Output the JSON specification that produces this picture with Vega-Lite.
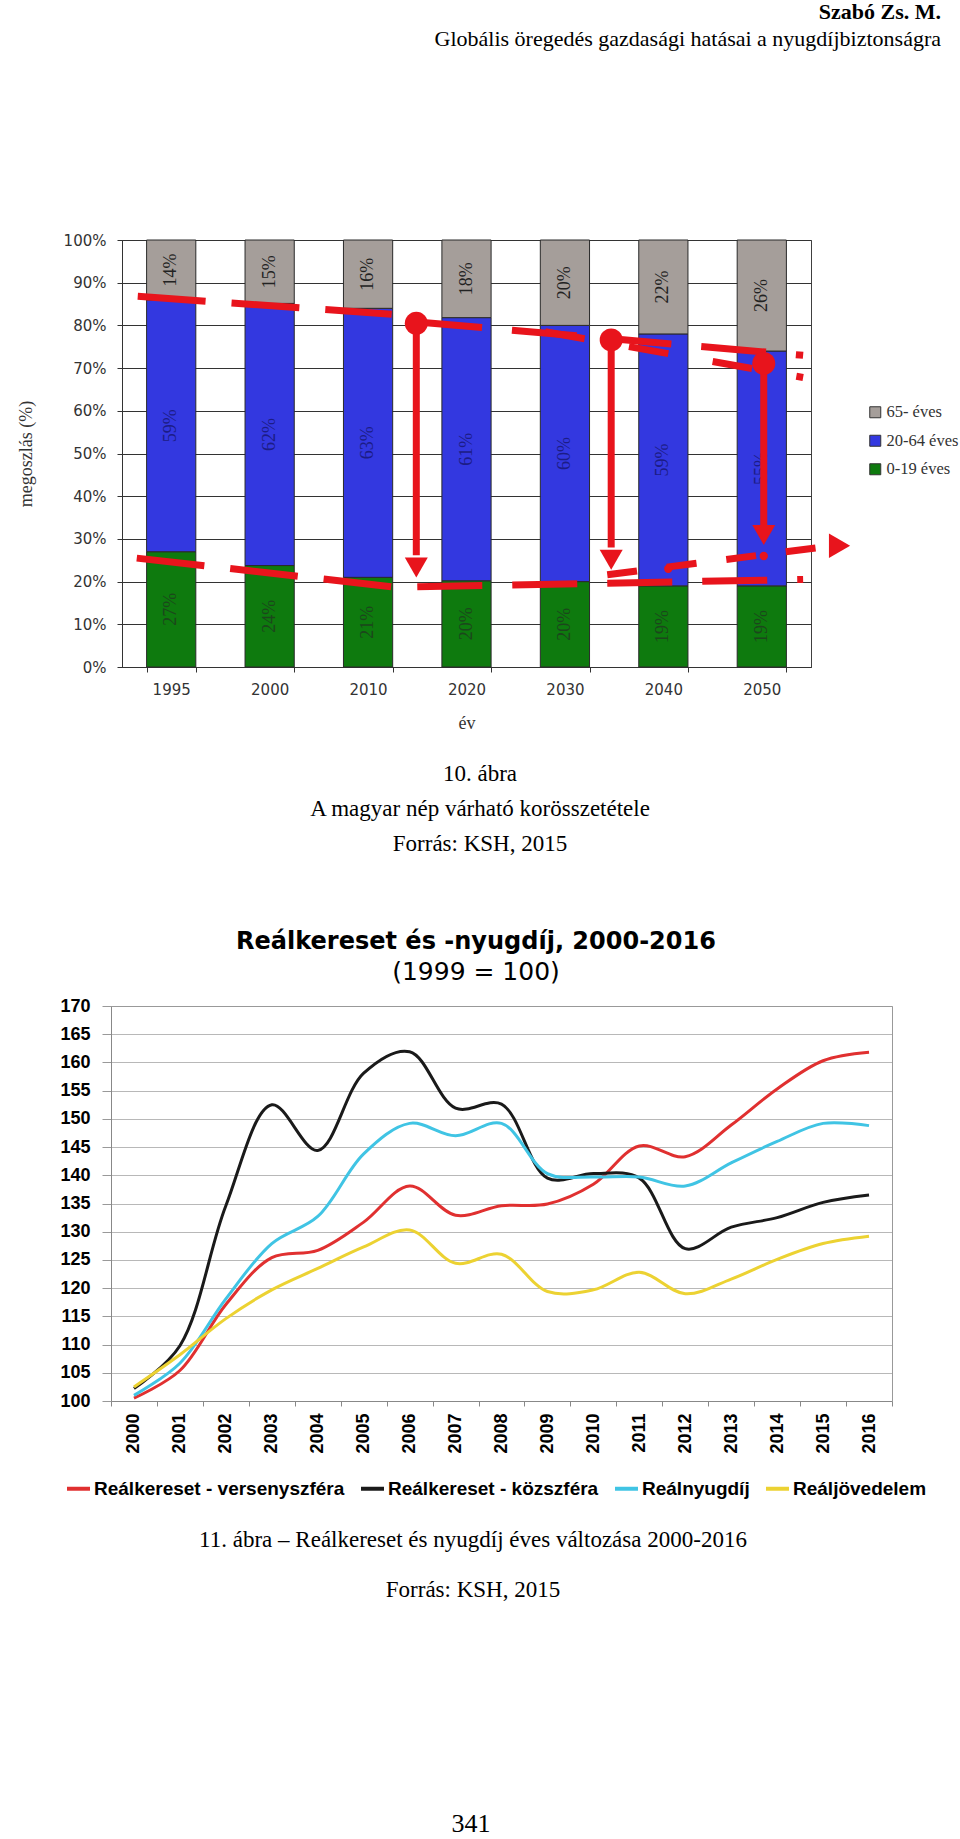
{
  "$schema": "https://vega.github.io/schema/vega-lite/v6.json",
  "background": "white",
  "padding": 0,
  "spacing": 0,
  "bounds": "flush",
  "resolve": {"scale": {"color": "independent"}, "legend": {"color": "independent"}},
  "datasets": {
    "pop": [
      {"year": "1995", "group": "0-19 éves", "value": 0.27},
      {"year": "1995", "group": "20-64 éves", "value": 0.59},
      {"year": "1995", "group": "65- éves", "value": 0.14},
      {"year": "2000", "group": "0-19 éves", "value": 0.24},
      {"year": "2000", "group": "20-64 éves", "value": 0.62},
      {"year": "2000", "group": "65- éves", "value": 0.15},
      {"year": "2010", "group": "0-19 éves", "value": 0.21},
      {"year": "2010", "group": "20-64 éves", "value": 0.63},
      {"year": "2010", "group": "65- éves", "value": 0.16},
      {"year": "2020", "group": "0-19 éves", "value": 0.20},
      {"year": "2020", "group": "20-64 éves", "value": 0.61},
      {"year": "2020", "group": "65- éves", "value": 0.18},
      {"year": "2030", "group": "0-19 éves", "value": 0.20},
      {"year": "2030", "group": "20-64 éves", "value": 0.60},
      {"year": "2030", "group": "65- éves", "value": 0.20},
      {"year": "2040", "group": "0-19 éves", "value": 0.19},
      {"year": "2040", "group": "20-64 éves", "value": 0.59},
      {"year": "2040", "group": "65- éves", "value": 0.22},
      {"year": "2050", "group": "0-19 éves", "value": 0.19},
      {"year": "2050", "group": "20-64 éves", "value": 0.55},
      {"year": "2050", "group": "65- éves", "value": 0.26}
    ],
    "wages": [
      {"year": "2000", "series": "Reálkereset - versenyszféra", "value": 100.5},
      {"year": "2001", "series": "Reálkereset - versenyszféra", "value": 105.4},
      {"year": "2002", "series": "Reálkereset - versenyszféra", "value": 117.1},
      {"year": "2003", "series": "Reálkereset - versenyszféra", "value": 125.4},
      {"year": "2004", "series": "Reálkereset - versenyszféra", "value": 126.7},
      {"year": "2005", "series": "Reálkereset - versenyszféra", "value": 131.7},
      {"year": "2006", "series": "Reálkereset - versenyszféra", "value": 138.1},
      {"year": "2007", "series": "Reálkereset - versenyszféra", "value": 132.9},
      {"year": "2008", "series": "Reálkereset - versenyszféra", "value": 134.6},
      {"year": "2009", "series": "Reálkereset - versenyszféra", "value": 134.9},
      {"year": "2010", "series": "Reálkereset - versenyszféra", "value": 138.4},
      {"year": "2011", "series": "Reálkereset - versenyszféra", "value": 145.2},
      {"year": "2012", "series": "Reálkereset - versenyszféra", "value": 143.3},
      {"year": "2013", "series": "Reálkereset - versenyszféra", "value": 148.9},
      {"year": "2014", "series": "Reálkereset - versenyszféra", "value": 155.3},
      {"year": "2015", "series": "Reálkereset - versenyszféra", "value": 160.3},
      {"year": "2016", "series": "Reálkereset - versenyszféra", "value": 161.8},
      {"year": "2000", "series": "Reálkereset - közszféra", "value": 102.2},
      {"year": "2001", "series": "Reálkereset - közszféra", "value": 109.8},
      {"year": "2002", "series": "Reálkereset - közszféra", "value": 134.6},
      {"year": "2003", "series": "Reálkereset - közszféra", "value": 152.5},
      {"year": "2004", "series": "Reálkereset - közszféra", "value": 144.4},
      {"year": "2005", "series": "Reálkereset - közszféra", "value": 158.1},
      {"year": "2006", "series": "Reálkereset - közszféra", "value": 161.9},
      {"year": "2007", "series": "Reálkereset - közszféra", "value": 151.9},
      {"year": "2008", "series": "Reálkereset - közszféra", "value": 152.6},
      {"year": "2009", "series": "Reálkereset - közszféra", "value": 139.5},
      {"year": "2010", "series": "Reálkereset - közszféra", "value": 140.3},
      {"year": "2011", "series": "Reálkereset - közszféra", "value": 139.5},
      {"year": "2012", "series": "Reálkereset - közszféra", "value": 127.0},
      {"year": "2013", "series": "Reálkereset - közszféra", "value": 130.8},
      {"year": "2014", "series": "Reálkereset - közszféra", "value": 132.5},
      {"year": "2015", "series": "Reálkereset - közszféra", "value": 135.2},
      {"year": "2016", "series": "Reálkereset - közszféra", "value": 136.5},
      {"year": "2000", "series": "Reálnyugdíj", "value": 101.0},
      {"year": "2001", "series": "Reálnyugdíj", "value": 106.7},
      {"year": "2002", "series": "Reálnyugdíj", "value": 118.1},
      {"year": "2003", "series": "Reálnyugdíj", "value": 127.9},
      {"year": "2004", "series": "Reálnyugdíj", "value": 132.7},
      {"year": "2005", "series": "Reálnyugdíj", "value": 143.8},
      {"year": "2006", "series": "Reálnyugdíj", "value": 149.2},
      {"year": "2007", "series": "Reálnyugdíj", "value": 147.0},
      {"year": "2008", "series": "Reálnyugdíj", "value": 149.2},
      {"year": "2009", "series": "Reálnyugdíj", "value": 140.3},
      {"year": "2010", "series": "Reálnyugdíj", "value": 139.7},
      {"year": "2011", "series": "Reálnyugdíj", "value": 139.7},
      {"year": "2012", "series": "Reálnyugdíj", "value": 138.1},
      {"year": "2013", "series": "Reálnyugdíj", "value": 142.2},
      {"year": "2014", "series": "Reálnyugdíj", "value": 146.0},
      {"year": "2015", "series": "Reálnyugdíj", "value": 149.2},
      {"year": "2016", "series": "Reálnyugdíj", "value": 148.8},
      {"year": "2000", "series": "Reáljövedelem", "value": 102.5},
      {"year": "2001", "series": "Reáljövedelem", "value": 108.2},
      {"year": "2002", "series": "Reáljövedelem", "value": 114.6},
      {"year": "2003", "series": "Reáljövedelem", "value": 119.7},
      {"year": "2004", "series": "Reáljövedelem", "value": 123.5},
      {"year": "2005", "series": "Reáljövedelem", "value": 127.3},
      {"year": "2006", "series": "Reáljövedelem", "value": 130.3},
      {"year": "2007", "series": "Reáljövedelem", "value": 124.4},
      {"year": "2008", "series": "Reáljövedelem", "value": 126.0},
      {"year": "2009", "series": "Reáljövedelem", "value": 119.4},
      {"year": "2010", "series": "Reáljövedelem", "value": 119.7},
      {"year": "2011", "series": "Reáljövedelem", "value": 122.8},
      {"year": "2012", "series": "Reáljövedelem", "value": 119.0},
      {"year": "2013", "series": "Reáljövedelem", "value": 121.6},
      {"year": "2014", "series": "Reáljövedelem", "value": 125.1},
      {"year": "2015", "series": "Reáljövedelem", "value": 127.9},
      {"year": "2016", "series": "Reáljövedelem", "value": 129.2}
    ]
  },
  "vconcat": [
    {
      "width": 819,
      "height": 51,
      "view": {"stroke": null},
      "encoding": {
        "x": {"datum": 1, "type": "quantitative", "scale": {"domain": [0, 1]}, "axis": null},
        "y": {"field": "t", "type": "ordinal", "axis": null, "scale": {"type": "point", "domain": ["Szabó Zs. M.", "Globális öregedés gazdasági hatásai a nyugdíjbiztonságra"], "padding": 0.455, "align": 0.5}},
        "text": {"field": "t"}
      },
      "layer": [
        {"data": {"values": [{"t": "Szabó Zs. M."}]}, "mark": {"type": "text", "align": "right", "baseline": "middle", "font": "Liberation Serif", "fontSize": 22, "fontWeight": "bold", "color": "black"}},
        {"data": {"values": [{"t": "Globális öregedés gazdasági hatásai a nyugdíjbiztonságra"}]}, "mark": {"type": "text", "align": "right", "baseline": "middle", "font": "Liberation Serif", "fontSize": 22, "fontWeight": "normal", "color": "black"}}
      ]
    },
    {"width": 1, "height": 189, "view": {"stroke": null}, "data": {"values": [{}]}, "mark": {"type": "text", "text": ""}},
    {
      "width": 689,
      "height": 427,
      "view": {"stroke": "#404040", "strokeWidth": 1},
      "resolve": {"scale": {"x": "independent", "color": "independent"}, "axis": {"x": "independent", "y": "independent"}},
      "layer": [
        {
          "data": {"name": "pop"},
          "mark": {"type": "bar", "stroke": "#2a2a2a", "strokeWidth": 1},
          "encoding": {
            "x": {"field": "year", "type": "ordinal",
              "scale": {"paddingInner": 0.5, "paddingOuter": 0.25},
              "axis": {"title": "év", "labelAngle": 0, "labelFont": "DejaVu Sans", "labelFontSize": 15, "labelColor": "#333333", "labelPadding": 10, "tickSize": 5, "tickBand": "extent", "tickColor": "#333333", "domainColor": "#333333", "titleFont": "Liberation Serif", "titleFontSize": 18, "titleFontWeight": "normal", "titleColor": "#333333", "titlePadding": 17}},
            "y": {"field": "value", "type": "quantitative", "stack": "normalize",
              "scale": {"domain": [0, 1]},
              "axis": {"title": "megoszlás (%)", "values": [0, 0.1, 0.2, 0.3, 0.4, 0.5, 0.6, 0.7, 0.8, 0.9, 1], "format": ".0%", "labelFont": "DejaVu Sans", "labelFontSize": 15, "labelColor": "#333333", "labelPadding": 11, "tickSize": 5, "tickColor": "#333333", "domainColor": "#333333", "grid": true, "gridColor": "#333333", "gridOpacity": 1, "titleFont": "Liberation Serif", "titleFontSize": 18, "titleFontWeight": "normal", "titleColor": "#333333", "titlePadding": 28}},
            "color": {"field": "group", "type": "nominal",
              "scale": {"domain": ["65- éves", "20-64 éves", "0-19 éves"], "range": ["#a59e9a", "#3338e0", "#0e7a0e"]},
              "legend": {"orient": "none", "legendX": 745, "legendY": 164, "title": null, "labelFont": "Liberation Serif", "labelFontSize": 16.5, "labelColor": "#333333", "symbolType": "square", "symbolSize": 121, "symbolStrokeColor": "#333333", "symbolStrokeWidth": 1, "rowPadding": 11.5, "labelOffset": 3}},
            "order": {"field": "group", "type": "ordinal", "sort": "ascending"}
          }
        },
        {
          "data": {"name": "pop"},
          "transform": [
            {"stack": "value", "groupby": ["year"], "sort": [{"field": "group", "order": "ascending"}], "offset": "normalize", "as": ["v0", "v1"]},
            {"fold": ["v0", "v1"], "as": ["edge", "pos"]},
            {"aggregate": [{"op": "mean", "field": "pos", "as": "mid"}], "groupby": ["year", "group", "value"]}
          ],
          "mark": {"type": "text", "angle": 270, "font": "Liberation Serif", "fontSize": 18, "align": "center", "baseline": "middle"},
          "encoding": {
            "x": {"field": "year", "type": "ordinal", "scale": {"paddingInner": 0.5, "paddingOuter": 0.25}, "axis": null},
            "y": {"field": "mid", "type": "quantitative", "axis": null},
            "text": {"field": "value", "type": "quantitative", "format": ".0%"},
            "color": {"field": "group", "type": "nominal", "scale": {"domain": ["65- éves", "20-64 éves", "0-19 éves"], "range": ["#222222", "#1c1c86", "#1c461c"]}, "legend": null}
          }
        },
        {
          "data": {"values": [
            {"k": "u1", "ax": 0.16, "ay": 0.868}, {"k": "u1", "ax": 2.74, "ay": 0.826},
            {"k": "l1", "ax": 0.15, "ay": 0.255}, {"k": "l1", "ax": 2.74, "ay": 0.188}
          ]},
          "mark": {"type": "line", "color": "#e8141c", "strokeWidth": 7, "strokeDash": [68, 26], "strokeCap": "butt"},
          "encoding": {
            "x": {"field": "ax", "type": "quantitative", "scale": {"domain": [0, 7]}, "axis": null},
            "y": {"field": "ay", "type": "quantitative", "axis": null},
            "detail": {"field": "k"}
          }
        },
        {
          "data": {"values": [
            {"k": "u2", "ax": 3.0, "ay": 0.808}, {"k": "u2", "ax": 6.92, "ay": 0.73},
            {"k": "l2", "ax": 3.0, "ay": 0.188}, {"k": "l2", "ax": 6.92, "ay": 0.205}
          ]},
          "mark": {"type": "line", "color": "#e8141c", "strokeWidth": 7, "strokeDash": [65, 30], "strokeCap": "butt"},
          "encoding": {
            "x": {"field": "ax", "type": "quantitative", "scale": {"domain": [0, 7]}, "axis": null},
            "y": {"field": "ay", "type": "quantitative", "axis": null},
            "detail": {"field": "k"}
          }
        },
        {
          "data": {"values": [
            {"k": "u3", "ax": 4.3, "ay": 0.785}, {"k": "u3", "ax": 6.92, "ay": 0.678}
          ]},
          "mark": {"type": "line", "color": "#e8141c", "strokeWidth": 7, "strokeDash": [40, 45], "strokeCap": "butt"},
          "encoding": {
            "x": {"field": "ax", "type": "quantitative", "scale": {"domain": [0, 7]}, "axis": null},
            "y": {"field": "ay", "type": "quantitative", "axis": null},
            "detail": {"field": "k"}
          }
        },
        {
          "data": {"values": [
            {"k": "l3", "ax": 4.93, "ay": 0.216}, {"k": "l3", "ax": 7.09, "ay": 0.28}
          ]},
          "mark": {"type": "line", "color": "#e8141c", "strokeWidth": 7, "strokeDash": [30, 30], "strokeCap": "butt"},
          "encoding": {
            "x": {"field": "ax", "type": "quantitative", "scale": {"domain": [0, 7]}, "axis": null},
            "y": {"field": "ay", "type": "quantitative", "axis": null},
            "detail": {"field": "k"}
          }
        },
        {
          "data": {"values": [
            {"ax": 2.99, "ay": 0.805, "ay2": 0.262},
            {"ax": 4.97, "ay": 0.766, "ay2": 0.28},
            {"ax": 6.52, "ay": 0.711, "ay2": 0.33}
          ]},
          "mark": {"type": "rule", "color": "#e8141c", "strokeWidth": 7},
          "encoding": {
            "x": {"field": "ax", "type": "quantitative", "scale": {"domain": [0, 7]}, "axis": null},
            "y": {"field": "ay", "type": "quantitative", "axis": null},
            "y2": {"field": "ay2"}
          }
        },
        {
          "data": {"values": [
            {"ax": 2.99, "ay": 0.233},
            {"ax": 4.97, "ay": 0.251},
            {"ax": 6.52, "ay": 0.309}
          ]},
          "mark": {"type": "point", "shape": "triangle-down", "filled": true, "size": 529, "color": "#e8141c", "opacity": 1, "strokeWidth": 0},
          "encoding": {
            "x": {"field": "ax", "type": "quantitative", "scale": {"domain": [0, 7]}, "axis": null},
            "y": {"field": "ay", "type": "quantitative", "axis": null}
          }
        },
        {
          "data": {"values": [{"ax": 7.29, "ay": 0.284}]},
          "mark": {"type": "point", "shape": "triangle-right", "filled": true, "size": 600, "color": "#e8141c", "opacity": 1, "strokeWidth": 0},
          "encoding": {
            "x": {"field": "ax", "type": "quantitative", "scale": {"domain": [0, 7]}, "axis": null},
            "y": {"field": "ay", "type": "quantitative", "axis": null}
          }
        },
        {
          "data": {"values": [
            {"ax": 2.99, "ay": 0.805},
            {"ax": 4.97, "ay": 0.766},
            {"ax": 6.52, "ay": 0.711}
          ]},
          "mark": {"type": "point", "shape": "circle", "filled": true, "size": 529, "color": "#e8141c", "opacity": 1, "strokeWidth": 0},
          "encoding": {
            "x": {"field": "ax", "type": "quantitative", "scale": {"domain": [0, 7]}, "axis": null},
            "y": {"field": "ay", "type": "quantitative", "axis": null}
          }
        },
        {
          "data": {"values": [{"ax": 6.52, "ay": 0.26}, {"ax": 5.55, "ay": 0.23}]},
          "mark": {"type": "point", "shape": "circle", "filled": true, "size": 70, "color": "#e8141c", "opacity": 1, "strokeWidth": 0},
          "encoding": {
            "x": {"field": "ax", "type": "quantitative", "scale": {"domain": [0, 7]}, "axis": null},
            "y": {"field": "ay", "type": "quantitative", "axis": null}
          }
        }
      ]
    },
    {"width": 1, "height": 89, "view": {"stroke": null}, "data": {"values": [{}]}, "mark": {"type": "text", "text": ""}},
    {
      "width": 716,
      "height": 106,
      "view": {"stroke": null},
      "data": {"values": [{"t": "10. ábra"}, {"t": "A magyar nép várható korösszetétele"}, {"t": "Forrás: KSH, 2015"}]},
      "mark": {"type": "text", "font": "Liberation Serif", "fontSize": 23, "color": "black", "baseline": "middle", "align": "center"},
      "encoding": {
        "y": {"field": "t", "type": "ordinal", "sort": null, "axis": null, "scale": {"type": "point", "padding": 0.5, "align": 0.5}},
        "text": {"field": "t"}
      }
    },
    {"width": 1, "height": 144, "view": {"stroke": null}, "data": {"values": [{}]}, "mark": {"type": "text", "text": ""}},
    {
      "width": 770,
      "height": 395,
      "view": {"stroke": null},
      "title": {"text": "Reálkereset és -nyugdíj, 2000-2016", "subtitle": "(1999 = 100)", "font": "DejaVu Sans", "fontSize": 24, "fontWeight": "bold", "color": "black", "subtitleFont": "DejaVu Sans", "subtitleFontSize": 25, "subtitleColor": "black", "anchor": "middle", "frame": "group", "dx": -31, "offset": 12, "subtitlePadding": 6},
      "data": {"name": "wages"},
      "resolve": {"axis": {"x": "independent", "y": "independent"}},
      "layer": [
        {
          "mark": {"type": "line", "interpolate": "catmull-rom", "strokeWidth": 3},
          "encoding": {
            "x": {"field": "year", "type": "ordinal",
              "scale": {"type": "band", "paddingInner": 0, "paddingOuter": 0, "range": [-11, 770]},
              "axis": {"title": null, "labelAngle": -90, "labelFont": "Liberation Sans", "labelFontWeight": "bold", "labelFontSize": 18, "labelColor": "black", "labelPadding": 7, "tickSize": 5, "tickBand": "extent", "tickColor": "#888888", "domainColor": "#888888", "grid": false}},
            "y": {"field": "value", "type": "quantitative",
              "scale": {"domain": [100, 170], "nice": false, "zero": false},
              "axis": {"title": ".", "titleColor": "white", "titleFontSize": 10, "titlePadding": 49, "offset": 11, "values": [100, 105, 110, 115, 120, 125, 130, 135, 140, 145, 150, 155, 160, 165, 170], "labelFont": "Liberation Sans", "labelFontWeight": "bold", "labelFontSize": 18, "labelColor": "black", "labelPadding": 12, "tickSize": 9, "tickColor": "#999999", "domainColor": "#888888", "grid": true, "gridColor": "#b8b8b8", "gridOpacity": 1}},
            "color": {"field": "series", "type": "nominal",
              "scale": {"domain": ["Reálkereset - versenyszféra", "Reálkereset - közszféra", "Reálnyugdíj", "Reáljövedelem"], "range": ["#e03030", "#1a1a1a", "#40c4e4", "#ecd232"]},
              "legend": {"orient": "none", "legendX": -57, "legendY": 469, "direction": "horizontal", "title": null, "symbolType": "stroke", "symbolSize": 529, "symbolStrokeWidth": 4, "labelFont": "Liberation Sans", "labelFontWeight": "bold", "labelFontSize": 19, "labelColor": "black", "labelOffset": 2, "labelLimit": 400, "columnPadding": 8}}
          }
        },
        {
          "mark": {"type": "point", "opacity": 0},
          "encoding": {
            "x": {"field": "year", "type": "ordinal",
              "axis": {"orient": "top", "title": null, "labels": false, "ticks": false, "grid": false, "domain": true, "domainColor": "#999999"}},
            "y": {"field": "value", "type": "quantitative",
              "axis": {"orient": "right", "title": null, "labels": false, "ticks": false, "grid": false, "domain": true, "domainColor": "#999999"}}
          }
        }
      ]
    },
    {"width": 1, "height": 114, "view": {"stroke": null}, "data": {"values": [{}]}, "mark": {"type": "text", "text": ""}},
    {
      "width": 702,
      "height": 100,
      "view": {"stroke": null},
      "data": {"values": [{"t": "11. ábra – Reálkereset és nyugdíj éves változása 2000-2016"}, {"t": "Forrás: KSH, 2015"}]},
      "mark": {"type": "text", "font": "Liberation Serif", "fontSize": 23, "color": "black", "baseline": "middle", "align": "center"},
      "encoding": {
        "y": {"field": "t", "type": "ordinal", "sort": null, "axis": null, "scale": {"type": "point", "padding": 0.5, "align": 0.5}},
        "text": {"field": "t"}
      }
    },
    {
      "width": 698,
      "height": 224,
      "view": {"stroke": null},
      "data": {"values": [{"t": "341"}]},
      "mark": {"type": "text", "font": "Liberation Serif", "fontSize": 26, "color": "black", "baseline": "middle", "align": "center"},
      "encoding": {
        "y": {"field": "t", "type": "ordinal", "axis": null, "scale": {"type": "point", "padding": 0.5, "align": 0.932}},
        "text": {"field": "t"}
      }
    }
  ]
}
